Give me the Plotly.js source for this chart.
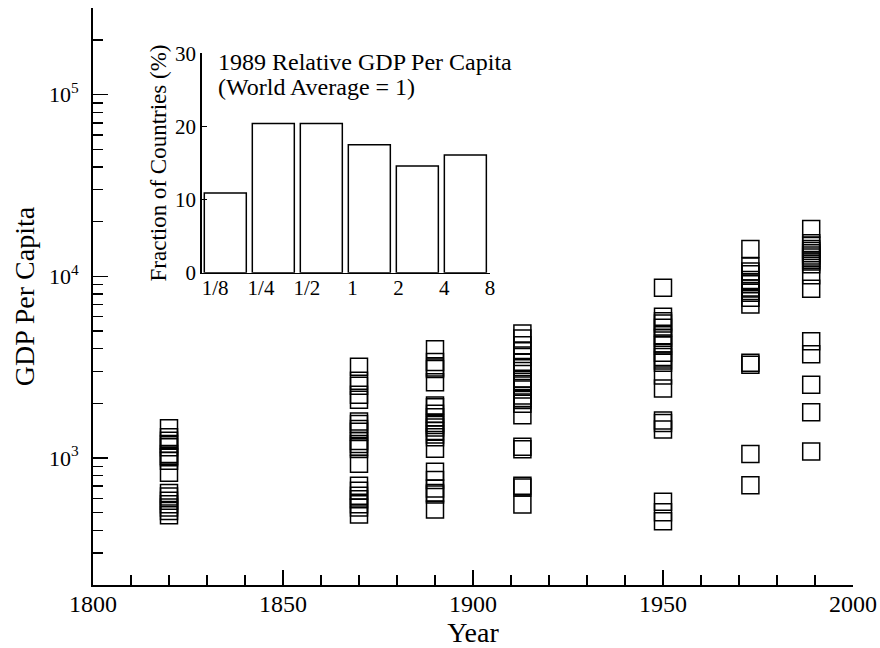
<!DOCTYPE html>
<html>
<head>
<meta charset="utf-8">
<script src="https://cdn.plot.ly/plotly-3.0.1.min.js"></script>
<style>html,body{margin:0;padding:0;background:#fff;}#chart{width:880px;height:648px;}</style>
</head>
<body>
<div id="chart"></div>
<script>
// ---- data ----
var years = [1820, 1870, 1890, 1913, 1950, 1973, 1989];
var gdp1820 = [1459, 1301, 1246, 1195, 1146, 1052, 1030, 1009, 966, 829, 641, 614, 581, 557, 534, 511, 484];
var gdp1870 = [3183, 2664, 2499, 2229, 2091, 1587, 1541, 1446, 1397, 1241, 1195, 1150, 1121, 930, 703, 660, 619, 593, 557, 534, 489];
var gdp1890 = [3966, 3379, 3154, 3091, 2613, 1945, 1906, 1750, 1679, 1561, 1522, 1474, 1410, 1349, 1301, 1126, 840, 756, 680, 641, 630, 521];
var gdp1913 = [4843, 4545, 4173, 3867, 3600, 3348, 3171, 3013, 2733, 2630, 2508, 2384, 2209, 2137, 2083, 1988, 1722, 1154, 1117, 703, 689, 555];
var gdp1950 = [8660, 5988, 5662, 5500, 5208, 4740, 4585, 4264, 4157, 3803, 3600, 3447, 3348, 2849, 2415, 1607, 1561, 1437, 574, 503, 449];
var gdp1973 = [14153, 11314, 10617, 10257, 9541, 9266, 9033, 8585, 8296, 8128, 7625, 7003, 3348, 3264, 1052, 709];
var gdp1989 = [18252, 15222, 14783, 14153, 13798, 13400, 13014, 12689, 12306, 12057, 11648, 10128, 8551, 4390, 3722, 2531, 1784, 1086];

var xTickVals = [1800, 1850, 1900, 1950, 2000];
var xMinorVals = [1810, 1820, 1830, 1840, 1860, 1870, 1880, 1890, 1910, 1920, 1930, 1940, 1960, 1970, 1980, 1990];
var yTickVals = [1e3, 1e4, 1e5];
var yTickText = ['10<sup>3</sup>', '10<sup>4</sup>', '10<sup>5</sup>'];
var yMinorVals = [300, 400, 500, 600, 700, 800, 900, 2000, 3000, 4000, 5000, 6000, 7000, 8000, 9000,
                  20000, 30000, 40000, 50000, 60000, 70000, 80000, 90000, 200000, 300000];

// inset: 1989 relative GDP per capita histogram
var binIndex = [0, 1, 2, 3, 4, 5];
var binFraction = [10.9, 20.4, 20.4, 17.5, 14.6, 16.1];
var insetTickVals = [0.125, 0.25, 0.5, 1, 2, 4, 8];
var insetTickText = ['1/8', '1/4', '1/2', '1', '2', '4', '8'];
var insetYTicks = [0, 10, 20, 30];

// ---- build ----
var series = [gdp1820, gdp1870, gdp1890, gdp1913, gdp1950, gdp1973, gdp1989];
var xs = [], ys = [];
series.forEach(function (arr, i) {
  arr.forEach(function (v) { xs.push(years[i]); ys.push(v); });
});

var FONT = '"Liberation Serif", "Times New Roman", Times, serif';

var traces = [
  {
    type: 'scatter', mode: 'markers', x: xs, y: ys, xaxis: 'x', yaxis: 'y',
    marker: { symbol: 'square-open', size: 17, color: '#000', line: { width: 1.5, color: '#000' } },
    hoverinfo: 'x+y'
  },
  {
    type: 'bar', x: binIndex, y: binFraction, xaxis: 'x2', yaxis: 'y2',
    marker: { color: '#fff', line: { color: '#000', width: 1.5 } }
  },
  {
    type: 'scatter', mode: 'markers', x: insetTickVals, y: insetTickVals.map(function () { return 0; }),
    xaxis: 'x3', yaxis: 'y2', marker: { opacity: 0, size: 1 }, hoverinfo: 'skip'
  }
];

var layout = {
  width: 880, height: 648,
  margin: { l: 93, r: 27, t: 8, b: 63 },
  paper_bgcolor: '#fff', plot_bgcolor: 'rgba(0,0,0,0)',
  showlegend: false,
  bargap: 0.125,
  font: { family: FONT, color: '#000' },
  xaxis: {
    domain: [0, 1], anchor: 'y', range: [1800, 2000],
    tickmode: 'array', tickvals: xTickVals,
    ticks: 'inside', ticklen: 15, tickwidth: 1.5, tickcolor: '#000',
    minor: { tickmode: 'array', tickvals: xMinorVals, ticks: 'inside', ticklen: 10, tickwidth: 1.5, tickcolor: '#000', showgrid: false },
    showline: true, linewidth: 2, linecolor: '#000', mirror: false,
    showgrid: false, zeroline: false,
    tickfont: { family: FONT, size: 24, color: '#000' },
    ticklabelstandoff: -4,
    title: { text: 'Year', font: { family: FONT, size: 28, color: '#000' }, standoff: 7 },
    automargin: false
  },
  yaxis: {
    domain: [0, 1], anchor: 'x', type: 'log', range: [Math.log10(200), Math.log10(300000)],
    tickmode: 'array', tickvals: yTickVals, ticktext: yTickText,
    ticks: 'inside', ticklen: 15, tickwidth: 1.5, tickcolor: '#000',
    minor: { tickmode: 'array', tickvals: yMinorVals, ticks: 'inside', ticklen: 10, tickwidth: 1.5, tickcolor: '#000', showgrid: false },
    showline: true, linewidth: 2, linecolor: '#000', mirror: false,
    showgrid: false, zeroline: false,
    tickfont: { family: FONT, size: 22, color: '#000' },
    ticklabelstandoff: 8,
    title: { text: 'GDP Per Capita', font: { family: FONT, size: 28, color: '#000' }, standoff: 6 },
    automargin: false
  },
  xaxis2: {
    domain: [0.1430, 0.5224], anchor: 'y2', range: [-0.492, 5.514],
    showticklabels: false, ticks: '', showgrid: false, zeroline: false,
    showline: true, linewidth: 1.5, linecolor: '#000', fixedrange: true
  },
  xaxis3: {
    type: 'log', overlaying: 'x2', anchor: 'y2', side: 'bottom',
    range: [Math.log10(0.125) - 0.295 * Math.log10(2), Math.log10(8)],
    tickmode: 'array', tickvals: insetTickVals, ticktext: insetTickText,
    ticks: '', showline: false, showgrid: false, zeroline: false,
    tickfont: { family: FONT, size: 21, color: '#000' },
    ticklabelstandoff: 0
  },
  yaxis2: {
    domain: [0.5413, 0.9215], anchor: 'x2', range: [0, 30],
    tickmode: 'array', tickvals: insetYTicks,
    ticks: 'inside', ticklen: 5, tickwidth: 1.5, tickcolor: '#000',
    showline: true, linewidth: 1.5, linecolor: '#000',
    showgrid: false, zeroline: false,
    tickfont: { family: FONT, size: 21, color: '#000' },
    ticklabelstandoff: 0,
    title: { text: 'Fraction of Countries (%)', font: { family: FONT, size: 23, color: '#000' }, standoff: 2 }
  },
  annotations: [
    { xref: 'paper', yref: 'paper', x: (216 - 93) / 760, y: (585 - 62) / 577, xanchor: 'left', yanchor: 'middle',
      text: '1989 Relative GDP Per Capita', showarrow: false, font: { family: FONT, size: 24, color: '#000' } },
    { xref: 'paper', yref: 'paper', x: (216 - 93) / 760, y: (585 - 87) / 577, xanchor: 'left', yanchor: 'middle',
      text: '(World Average = 1)', showarrow: false, font: { family: FONT, size: 24, color: '#000' } }
  ]
};

Plotly.newPlot('chart', traces, layout, { displayModeBar: false, staticPlot: true });
</script>
</body>
</html>
